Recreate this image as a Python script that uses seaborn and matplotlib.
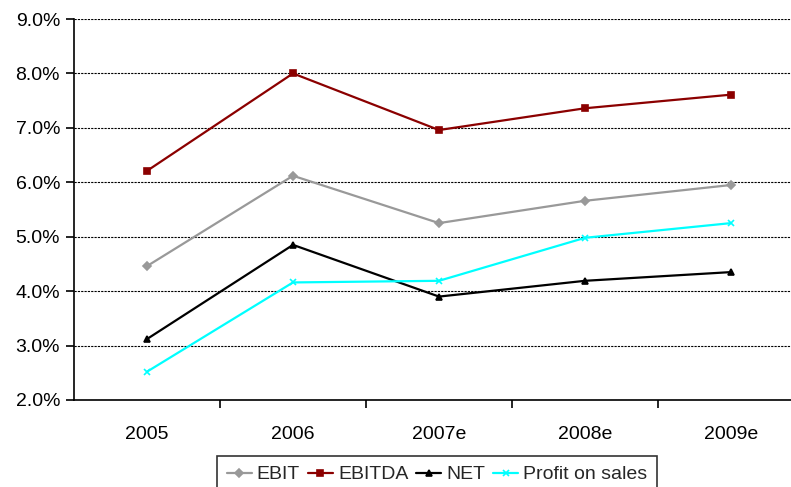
import numpy as np
import pandas as pd
import matplotlib
matplotlib.use("Agg")
import matplotlib.pyplot as plt
import seaborn as sns
from matplotlib.ticker import FuncFormatter, FixedLocator

years = ["2005", "2006", "2007e", "2008e", "2009e"]
ebit = [4.46, 6.12, 5.25, 5.66, 5.95]
ebitda = [6.21, 8.00, 6.96, 7.36, 7.61]
net = [3.12, 4.85, 3.90, 4.19, 4.35]
profit_on_sales = [2.52, 4.16, 4.19, 4.98, 5.25]

series = {"EBIT": ebit, "EBITDA": ebitda, "NET": net, "Profit on sales": profit_on_sales}
colors = {"EBIT": "#999999", "EBITDA": "#8B0000", "NET": "#000000", "Profit on sales": "#00FFFF"}
markers = {"EBIT": "D", "EBITDA": "s", "NET": "^", "Profit on sales": "x"}

df = pd.DataFrame([(y, name, v) for name, vals in series.items() for y, v in zip(years, vals)],
                  columns=["year", "series", "value"])

sns.set_theme(style="white")
plt.rcParams["font.family"] = ["Liberation Sans", "DejaVu Sans"]

fig = plt.figure(figsize=(7.91, 4.87), dpi=100)
# plot area runs past the right edge of the picture, as in the reference
ax = fig.add_axes([74 / 791, 1 - 400 / 487, 730 / 791, 381 / 487])

# mixed filled / line-art markers -> one lineplot call per series
for name in series:
    sub = df[df["series"] == name]
    sns.lineplot(data=sub, x="year", y="value", color=colors[name], marker=markers[name],
                 sort=False, linewidth=1.6, markersize=4, markeredgewidth=1.2,
                 markeredgecolor=colors[name], ax=ax, label=name, legend=False)

ax.set_xlim(-0.5, 4.5)
ax.set_ylim(2.0, 9.0)
ax.yaxis.set_major_locator(FixedLocator(np.arange(2.0, 9.01, 1.0)))
ax.yaxis.set_major_formatter(FuncFormatter(lambda v, _: f"{v:.1f}%"))
ax.yaxis.grid(True, color="black", linestyle=(0, (2, 1)), linewidth=0.8)
ax.xaxis.grid(False)
ax.set_xlabel("")
ax.set_ylabel("")

for s in ["top", "right"]:
    ax.spines[s].set_visible(False)
for s in ["left", "bottom"]:
    ax.spines[s].set_color("black")
    ax.spines[s].set_linewidth(1.2)

ax.tick_params(axis="y", which="major", direction="out", length=6, width=1.2,
               color="black", left=True, labelsize=14, pad=4, labelcolor="black")
ax.tick_params(axis="x", which="major", length=0, labelsize=14, pad=19, labelcolor="black")
ax.xaxis.set_minor_locator(FixedLocator([0.5, 1.5, 2.5, 3.5]))
ax.tick_params(axis="x", which="minor", direction="out", length=6, width=1.2,
               color="black", bottom=True)

handles = [plt.Line2D([], [], color=colors[n], marker=markers[n], markersize=4,
                      linewidth=1.6, markeredgewidth=1.2) for n in series]
leg = fig.legend(handles, list(series.keys()), loc="upper center",
                 bbox_to_anchor=(437 / 791, 1 - 456 / 487), ncol=4, frameon=True,
                 fontsize=14, handlelength=1.3, handletextpad=0.25, columnspacing=0.4,
                 borderpad=0.5, borderaxespad=0, fancybox=False)
leg.get_frame().set_edgecolor("black")
leg.get_frame().set_linewidth(1.2)

fig.savefig("out.png", dpi=100)
